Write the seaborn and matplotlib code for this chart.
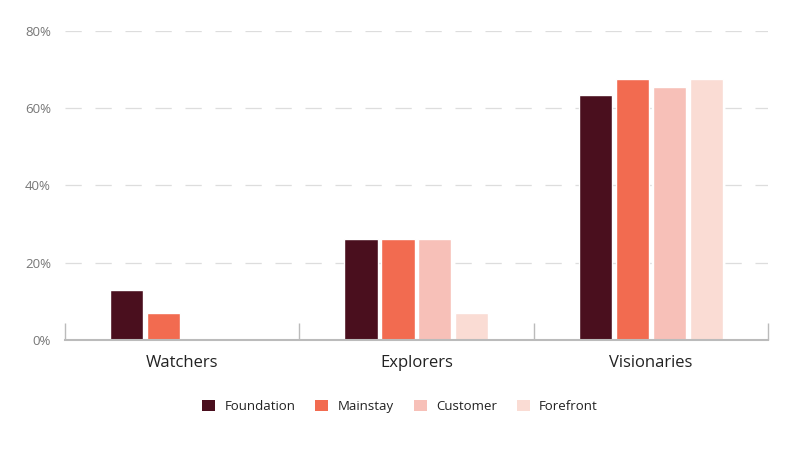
import matplotlib
matplotlib.use("Agg")
import matplotlib.pyplot as plt
import seaborn as sns
import pandas as pd
from matplotlib.patches import Patch
from matplotlib.ticker import FixedLocator

categories = ["Watchers", "Explorers", "Visionaries"]
series = ["Foundation", "Mainstay", "Customer", "Forefront"]
foundation = [13, 26, 63.5]
mainstay = [7, 26, 67.5]
customer = [0, 26, 65.5]
forefront = [0, 7, 67.5]
colors = ["#4a0f1e", "#f26b50", "#f7c0b8", "#fadcd4"]
yticks = [0, 20, 40, 60, 80]
ytick_labels = ["0%", "20%", "40%", "60%", "80%"]

rows = []
for s, vals in zip(series, [foundation, mainstay, customer, forefront]):
    for c, v in zip(categories, vals):
        rows.append({"category": c, "series": s, "value": v})
df = pd.DataFrame(rows)

sns.set_theme(style="white")
plt.rcParams["font.family"] = ["Open Sans", "DejaVu Sans"]
fig = plt.figure(figsize=(8, 4.49), dpi=100)
ax = fig.add_axes([0.081, 0.243, 0.879, 0.688])

sns.barplot(data=df, x="category", y="value", hue="series", palette=colors,
            order=categories, hue_order=series, width=0.63, gap=0.1,
            ax=ax, legend=False, saturation=1)

ax.set_ylim(0, 80)
ax.set_xlim(-0.5, 2.5)
ax.set_yticks(yticks)
ax.set_yticklabels(ytick_labels, color="#777777", fontsize=9.5)
for y in yticks[1:]:
    ax.axhline(y, xmin=0.0, xmax=1.0, color="#dddddd", lw=0.9, ls=(0, (13, 11)), zorder=0)
ax.set_xlabel("")
ax.set_ylabel("")
ax.tick_params(axis="x", which="major", length=0, labelsize=12, labelcolor="#222222", pad=11)
ax.tick_params(axis="y", length=0, pad=10)
ax.xaxis.set_minor_locator(FixedLocator([-0.5, 0.5, 1.5, 2.5]))
ax.tick_params(axis="x", which="minor", bottom=True, direction="in", length=12,
               color="#bbbbbb", width=1)
for sp in ["top", "right", "left"]:
    ax.spines[sp].set_visible(False)
ax.spines["bottom"].set_color("#bbbbbb")
ax.spines["bottom"].set_linewidth(1.5)

handles = [Patch(facecolor=c, edgecolor="none", label=s) for s, c in zip(series, colors)]
fig.legend(handles=handles, loc="center", bbox_to_anchor=(0.5, 0.095), ncol=4,
           frameon=False, fontsize=9.5, handlelength=1.0, handleheight=1.0,
           columnspacing=1.5, handletextpad=0.7, labelcolor="#222222")

fig.savefig("out.png", dpi=100, facecolor="white")
